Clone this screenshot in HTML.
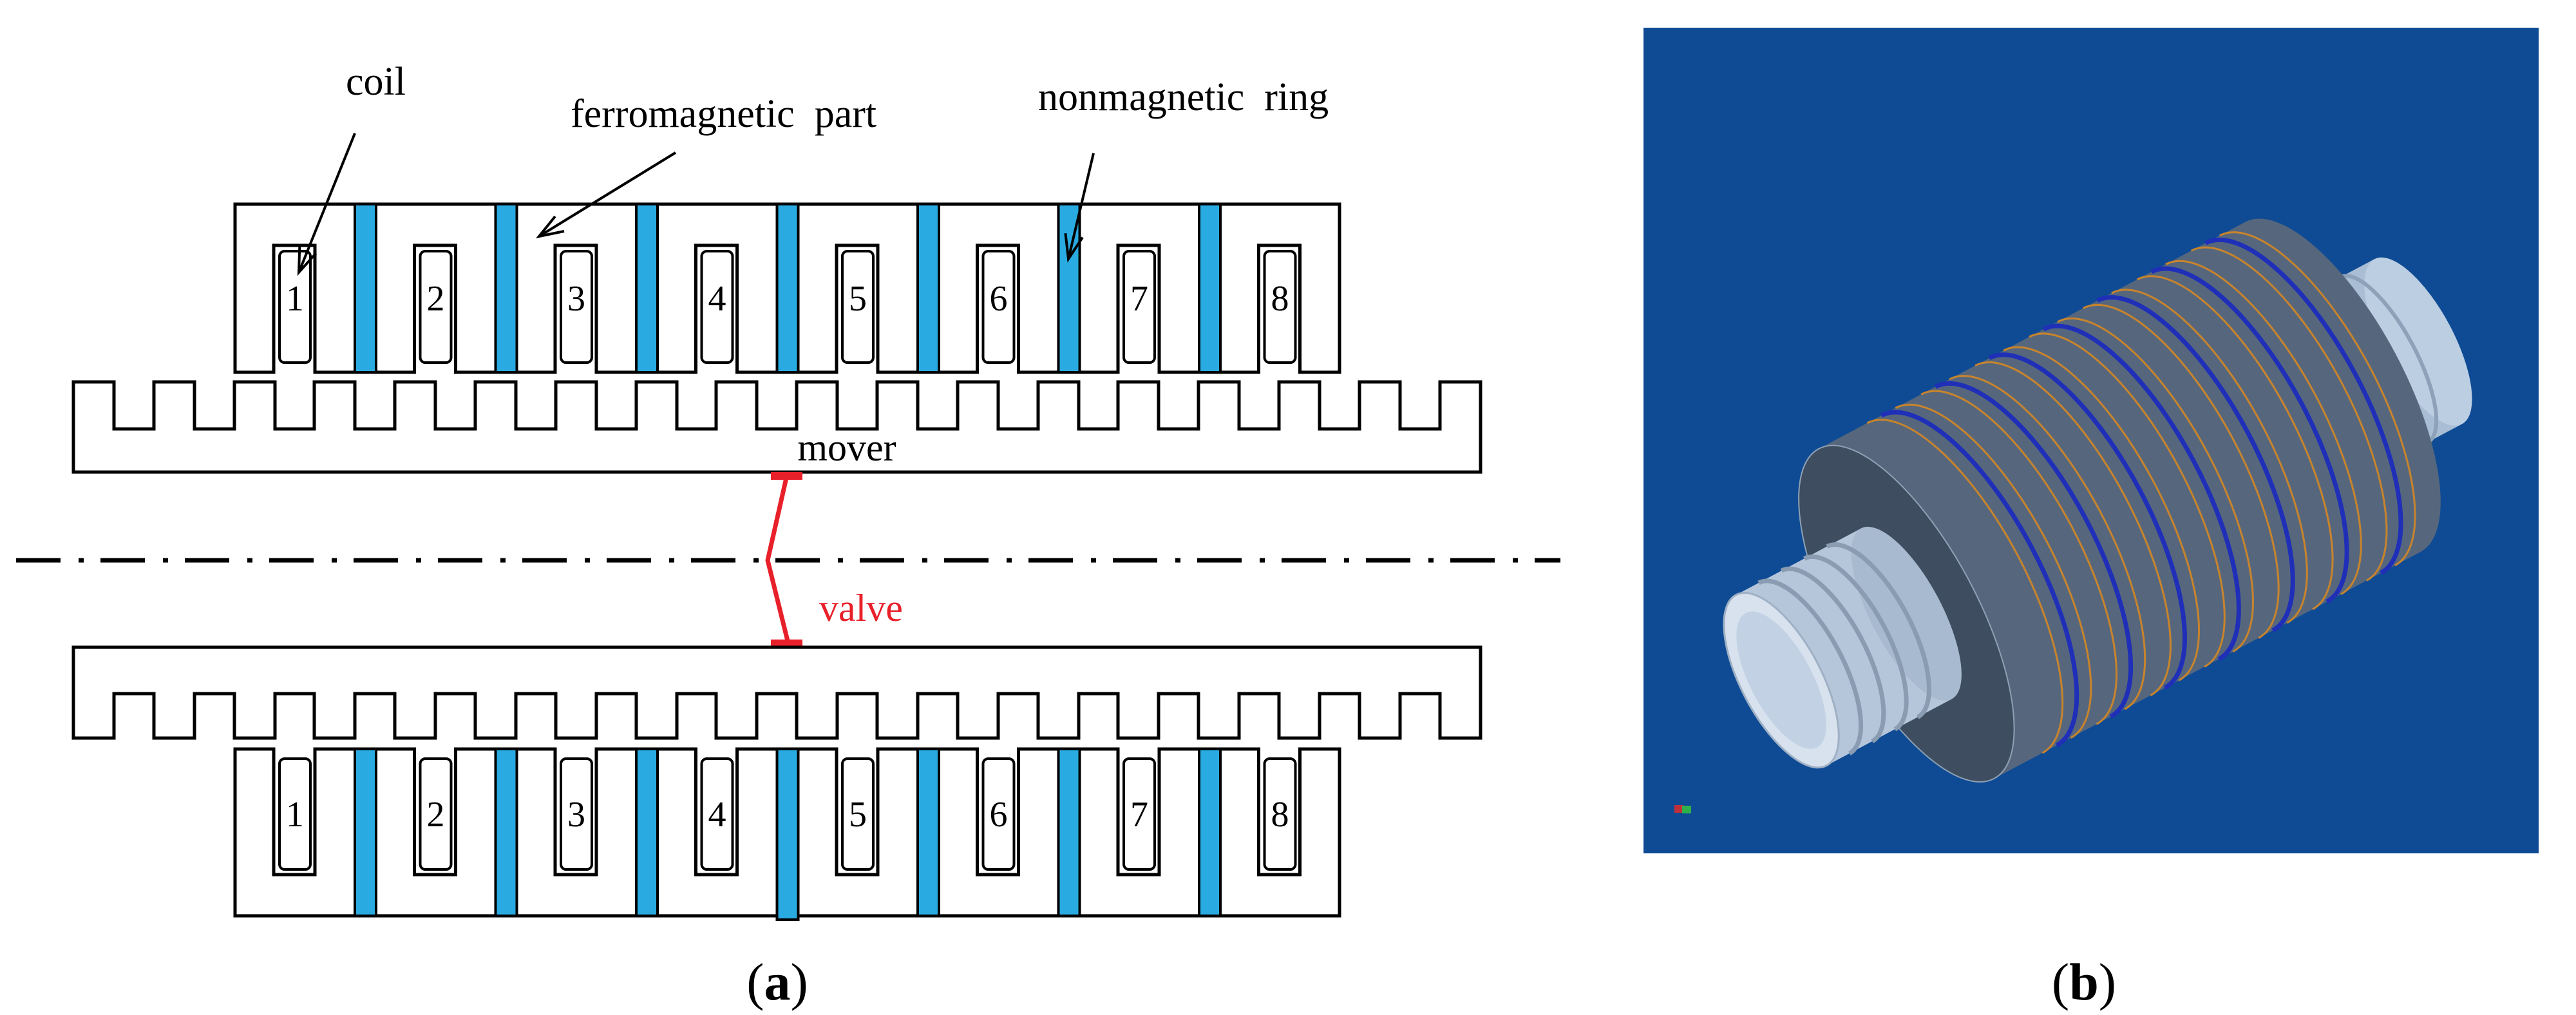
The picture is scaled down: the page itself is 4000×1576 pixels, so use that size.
<!DOCTYPE html>
<html><head><meta charset="utf-8"><style>
html,body{margin:0;padding:0;background:#fff;}
svg{display:block;}
text{font-family:"Liberation Serif",serif;}
</style></head><body>
<svg width="4000" height="1576" viewBox="0 0 4000 1576" xmlns="http://www.w3.org/2000/svg">
<rect width="4000" height="1576" fill="#fff"/>
<!-- labels -->
<text x="537" y="147" font-size="62">coil</text>
<text x="886" y="197" font-size="62" xml:space="preserve">ferromagnetic  part</text>
<text x="1612" y="171" font-size="62" xml:space="preserve">nonmagnetic  ring</text>
<!-- upper stator -->
<path d="M365,317 H2080 V578 H2018.5 V381 H1954.5 V578 H1800 V381 H1736 V578 H1581.5 V381 H1517.5 V578 H1363 V381 H1299 V578 H1144.5 V381 H1080.5 V578 H926 V381 H862 V578 H707.5 V381 H643.5 V578 H489 V381 H425 V578 H365 Z" fill="#fff" stroke="#000" stroke-width="5"/>
<g fill="#29abe2" stroke="#000" stroke-width="4">
<rect x="551" y="317" width="33" height="261"/><rect x="769.5" y="317" width="33" height="261"/><rect x="988" y="317" width="33" height="261"/><rect x="1206.5" y="317" width="33" height="261"/><rect x="1425" y="317" width="33" height="261"/><rect x="1643.5" y="317" width="33" height="261"/><rect x="1862" y="317" width="33" height="261"/>
</g>
<g fill="none" stroke="#000" stroke-width="4">
<rect x="434" y="390" width="48" height="173" rx="8"/><rect x="652.5" y="390" width="48" height="173" rx="8"/><rect x="871" y="390" width="48" height="173" rx="8"/><rect x="1089.5" y="390" width="48" height="173" rx="8"/><rect x="1308" y="390" width="48" height="173" rx="8"/><rect x="1526.5" y="390" width="48" height="173" rx="8"/><rect x="1745" y="390" width="48" height="173" rx="8"/><rect x="1963.5" y="390" width="48" height="173" rx="8"/>
</g>
<g font-size="56" text-anchor="middle">
<text x="458" y="482">1</text><text x="676.5" y="482">2</text><text x="895" y="482">3</text><text x="1113.5" y="482">4</text><text x="1332" y="482">5</text><text x="1550.5" y="482">6</text><text x="1769" y="482">7</text><text x="1987.5" y="482">8</text>
</g>
<!-- arrows -->
<g stroke="#000" stroke-width="4" fill="none">
<line x1="551" y1="207" x2="464" y2="423"/><polyline points="490.7,393.2 464,423 465.3,383"/>
<line x1="1049" y1="237" x2="837" y2="367"/><polyline points="876,359 837,367 862,336"/>
<line x1="1698" y1="238" x2="1659" y2="402"/><polyline points="1681,368.6 1659,402 1654.4,362.2"/>
</g>
<!-- upper mover -->
<path d="M114,733 V593 H177 V666 H239 V593 H302 V666 H364 V593 H427 V666 H488 V593 H551 V666 H613 V593 H676 V666 H738 V593 H801 V666 H863 V593 H926 V666 H988 V593 H1051 V666 H1112 V593 H1175 V666 H1237 V593 H1300 V666 H1362 V593 H1425 V666 H1487 V593 H1550 V666 H1612 V593 H1675 V666 H1736 V593 H1799 V666 H1861 V593 H1924 V666 H1986 V593 H2049 V666 H2111 V593 H2174 V666 H2236 V593 H2299 V733 Z" fill="#fff" stroke="#000" stroke-width="5"/>
<text x="1315" y="715" font-size="60" text-anchor="middle">mover</text>
<!-- center line -->
<line x1="25" y1="870" x2="2423" y2="870" stroke="#000" stroke-width="7" stroke-dasharray="69 28 8 26"/>
<!-- valve -->
<polyline points="1221,742 1192,870 1223,995" fill="none" stroke="#e8202a" stroke-width="7"/>
<rect x="1197" y="733" width="49" height="12" fill="#e8202a"/>
<rect x="1197" y="993" width="49" height="12" fill="#e8202a"/>
<text x="1272" y="964" font-size="60" fill="#e8202a">valve</text>
<!-- lower mover -->
<path d="M114,1005 V1146 H177 V1077 H239 V1146 H302 V1077 H364 V1146 H427 V1077 H488 V1146 H551 V1077 H613 V1146 H676 V1077 H738 V1146 H801 V1077 H863 V1146 H926 V1077 H988 V1146 H1051 V1077 H1112 V1146 H1175 V1077 H1237 V1146 H1300 V1077 H1362 V1146 H1425 V1077 H1487 V1146 H1550 V1077 H1612 V1146 H1675 V1077 H1736 V1146 H1799 V1077 H1861 V1146 H1924 V1077 H1986 V1146 H2049 V1077 H2111 V1146 H2174 V1077 H2236 V1146 H2299 V1005 Z" fill="#fff" stroke="#000" stroke-width="5"/>
<!-- lower stator -->
<path d="M365,1422 H2080 V1163 H2018.5 V1358 H1954.5 V1163 H1800 V1358 H1736 V1163 H1581.5 V1358 H1517.5 V1163 H1363 V1358 H1299 V1163 H1144.5 V1358 H1080.5 V1163 H926 V1358 H862 V1163 H707.5 V1358 H643.5 V1163 H489 V1358 H425 V1163 H365 Z" fill="#fff" stroke="#000" stroke-width="5"/>
<g fill="#29abe2" stroke="#000" stroke-width="4">
<rect x="551" y="1163" width="33" height="259"/><rect x="769.5" y="1163" width="33" height="259"/><rect x="988" y="1163" width="33" height="259"/><rect x="1206.5" y="1163" width="33" height="265"/><rect x="1425" y="1163" width="33" height="259"/><rect x="1643.5" y="1163" width="33" height="259"/><rect x="1862" y="1163" width="33" height="259"/>
</g>
<g fill="none" stroke="#000" stroke-width="4">
<rect x="434" y="1178" width="48" height="172" rx="8"/><rect x="652.5" y="1178" width="48" height="172" rx="8"/><rect x="871" y="1178" width="48" height="172" rx="8"/><rect x="1089.5" y="1178" width="48" height="172" rx="8"/><rect x="1308" y="1178" width="48" height="172" rx="8"/><rect x="1526.5" y="1178" width="48" height="172" rx="8"/><rect x="1745" y="1178" width="48" height="172" rx="8"/><rect x="1963.5" y="1178" width="48" height="172" rx="8"/>
</g>
<g font-size="56" text-anchor="middle">
<text x="458" y="1283">1</text><text x="676.5" y="1283">2</text><text x="895" y="1283">3</text><text x="1113.5" y="1283">4</text><text x="1332" y="1283">5</text><text x="1550.5" y="1283">6</text><text x="1769" y="1283">7</text><text x="1987.5" y="1283">8</text>
</g>
<!-- captions -->
<text x="1207" y="1552" font-size="82" text-anchor="middle">(<tspan font-weight="bold">a</tspan>)</text>
<text x="3236" y="1552" font-size="82" text-anchor="middle">(<tspan font-weight="bold">b</tspan>)</text>
<!-- right panel -->
<rect x="2552" y="43" width="1390" height="1282" fill="#0e4b94"/>
<g transform="translate(3340,751) rotate(-28)">
  <rect x="320" y="-145" width="150" height="290" fill="#a9bdd4"/>
  <ellipse cx="470" cy="0" rx="55" ry="145" fill="#bccee2"/>
  <path d="M370,-145 A50,145 0 0 1 370,145 M410,-145 A50,145 0 0 1 410,145" fill="none" stroke="#8da1b8" stroke-width="6"/>
  <rect x="-430" y="-290" width="750" height="580" fill="#56677d"/>
  <ellipse cx="320" cy="0" rx="110" ry="290" fill="#56677d"/>
  <g fill="none">
    <path d="M-345,-290 A110,290 0 0 1 -345,290" stroke="#c8842c" stroke-width="3"/>
    <path d="M-295,-290 A110,290 0 0 1 -295,290" stroke="#c8842c" stroke-width="3"/>
    <path d="M-250,-290 A110,290 0 0 1 -250,290" stroke="#c8842c" stroke-width="3"/>
    <path d="M-200,-290 A110,290 0 0 1 -200,290" stroke="#c8842c" stroke-width="3"/>
    <path d="M-155,-290 A110,290 0 0 1 -155,290" stroke="#c8842c" stroke-width="3"/>
    <path d="M-105,-290 A110,290 0 0 1 -105,290" stroke="#c8842c" stroke-width="3"/>
    <path d="M-60,-290 A110,290 0 0 1 -60,290" stroke="#c8842c" stroke-width="3"/>
    <path d="M-10,-290 A110,290 0 0 1 -10,290" stroke="#c8842c" stroke-width="3"/>
    <path d="M35,-290 A110,290 0 0 1 35,290" stroke="#c8842c" stroke-width="3"/>
    <path d="M85,-290 A110,290 0 0 1 85,290" stroke="#c8842c" stroke-width="3"/>
    <path d="M130,-290 A110,290 0 0 1 130,290" stroke="#c8842c" stroke-width="3"/>
    <path d="M180,-290 A110,290 0 0 1 180,290" stroke="#c8842c" stroke-width="3"/>
    <path d="M225,-290 A110,290 0 0 1 225,290" stroke="#c8842c" stroke-width="3"/>
    <path d="M275,-290 A110,290 0 0 1 275,290" stroke="#c8842c" stroke-width="3"/>
    <path d="M-320,-290 A110,290 0 0 1 -320,290" stroke="#1f2fb8" stroke-width="7"/>
    <path d="M-225,-290 A110,290 0 0 1 -225,290" stroke="#1f2fb8" stroke-width="7"/>
    <path d="M-130,-290 A110,290 0 0 1 -130,290" stroke="#1f2fb8" stroke-width="7"/>
    <path d="M-35,-290 A110,290 0 0 1 -35,290" stroke="#1f2fb8" stroke-width="7"/>
    <path d="M60,-290 A110,290 0 0 1 60,290" stroke="#1f2fb8" stroke-width="7"/>
    <path d="M155,-290 A110,290 0 0 1 155,290" stroke="#1f2fb8" stroke-width="7"/>
    <path d="M250,-290 A110,290 0 0 1 250,290" stroke="#1f2fb8" stroke-width="7"/>
  </g>
  <ellipse cx="-430" cy="0" rx="110" ry="290" fill="#3e4e60" stroke="#8fa0b5" stroke-width="2"/>
  <rect x="-650" y="-150" width="220" height="300" fill="#b5c6da"/>
  <ellipse cx="-430" cy="0" rx="55" ry="150" fill="#a8bacf"/>
  <path d="M-610,-150 A60,150 0 0 1 -610,150 M-570,-150 A60,150 0 0 1 -570,150 M-530,-150 A60,150 0 0 1 -530,150 M-490,-150 A60,150 0 0 1 -490,150" fill="none" stroke="#8a9cb2" stroke-width="7"/>
  <ellipse cx="-650" cy="0" rx="62" ry="150" fill="#d7e2ee" stroke="#9fb0c4" stroke-width="3"/>
  <ellipse cx="-650" cy="0" rx="48" ry="118" fill="#c2d2e4"/>
</g>
<rect x="2600" y="1250" width="14" height="12" fill="#c0303a"/>
<rect x="2612" y="1251" width="14" height="12" fill="#2fb04a"/>
</svg>
</body></html>
